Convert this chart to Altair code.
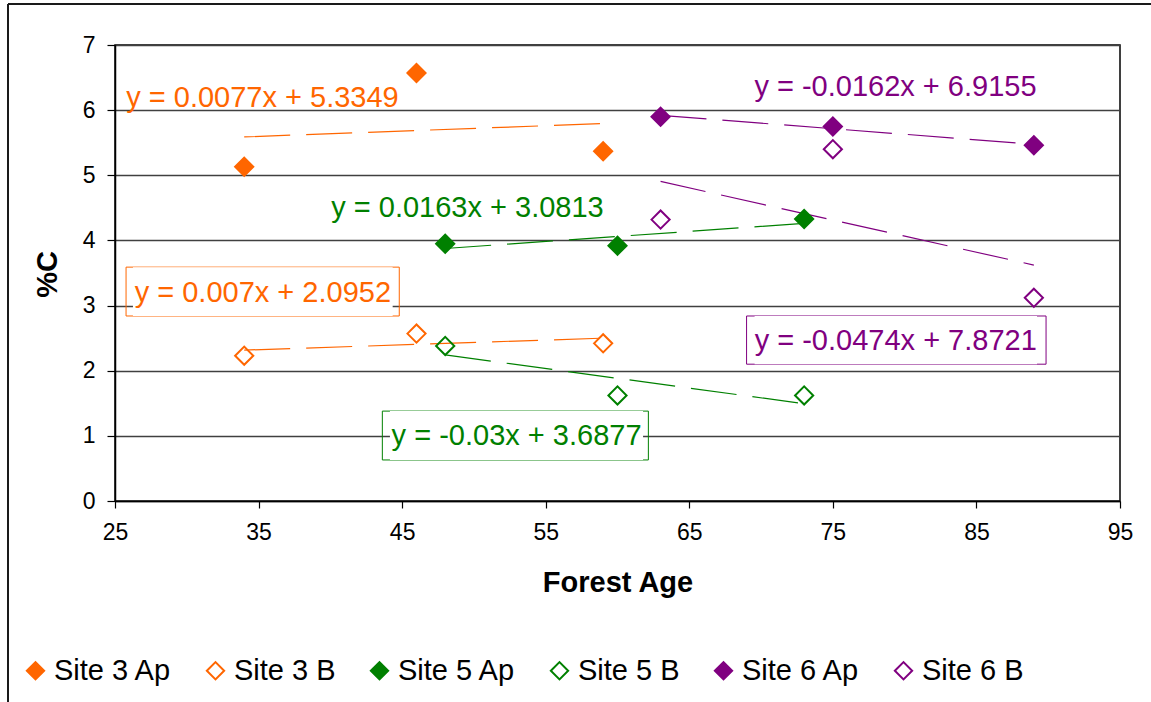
import altair as alt
import pandas as pd

# ---------------- data ----------------
series_names = ["Site 3 Ap", "Site 3 B", "Site 5 Ap", "Site 5 B", "Site 6 Ap", "Site 6 B"]
stroke_colors = ["#FF6600", "#FF6600", "#008000", "#008000", "#800080", "#800080"]
fill_colors = ["#FF6600", "transparent", "#008000", "transparent", "#800080", "transparent"]

site3_age = [34, 46, 59]
site5_age = [48, 60, 73]
site6_age = [63, 75, 89]

site3_ap = [5.13, 6.57, 5.37]
site3_b = [2.23, 2.57, 2.42]
site5_ap = [3.95, 3.92, 4.33]
site5_b = [2.38, 1.62, 1.62]
site6_ap = [5.90, 5.75, 5.46]
site6_b = [4.32, 5.40, 3.12]

x_ticks = [25, 35, 45, 55, 65, 75, 85, 95]
y_ticks = [0, 1, 2, 3, 4, 5, 6, 7]

# trendline equations (as printed on the chart) and where they are placed
eq_text = ["y = 0.0077x + 5.3349", "y = 0.007x + 2.0952", "y = 0.0163x + 3.0813",
           "y = -0.03x + 3.6877", "y = -0.0162x + 6.9155", "y = -0.0474x + 7.8721"]
eq_color = stroke_colors
eq_x = [35.27, 35.30, 49.55, 52.97, 79.36, 79.38]
eq_y = [6.18, 3.19, 4.50, 1.00, 6.36, 2.45]

# boxes around the three B-horizon equations
box_color = ["#FF6600", "#008000", "#800080"]
box_x1 = [25.77, 43.62, 68.99]
box_x2 = [44.80, 62.15, 89.85]
box_y1 = [2.84, 0.63, 2.10]
box_y2 = [3.59, 1.38, 2.84]
inner_x1 = [26.25, 44.15, 69.55]
inner_x2 = [44.34, 61.78, 89.22]

# ---------------- tables ----------------
ages = {"Site 3": site3_age, "Site 5": site5_age, "Site 6": site6_age}
vals = {"Site 3 Ap": site3_ap, "Site 3 B": site3_b, "Site 5 Ap": site5_ap,
        "Site 5 B": site5_b, "Site 6 Ap": site6_ap, "Site 6 B": site6_b}
rows = []
for s in series_names:
    site = " ".join(s.split()[:2])
    for a, v in zip(ages[site], vals[s]):
        rows.append({"series": s, "age": a, "c": v})
df = pd.DataFrame(rows)
color_df = pd.DataFrame({"series": series_names, "stroke": stroke_colors})
eq_df = pd.DataFrame({"label": eq_text, "color": eq_color, "x": eq_x, "y": eq_y})
box_df = pd.DataFrame({"color": box_color, "x1": box_x1, "x2": box_x2, "y1": box_y1,
                       "y2": box_y2, "ix1": inner_x1, "ix2": inner_x2})
frame_df = pd.DataFrame({"k": [0]})

FONT = "Liberation Sans"
xscale = alt.Scale(domain=[25, 95], nice=False, zero=False)
yscale = alt.Scale(domain=[0, 7], nice=False)

xenc = alt.X("age:Q", scale=xscale,
             axis=alt.Axis(values=x_ticks, title="Forest Age", grid=False, labelFontSize=23,
                           labelPadding=13, tickSize=7, titleFontSize=29, titleFontWeight="bold",
                           titleY=81, titleBaseline="middle", labelFlush=False, format="d"))
yenc = alt.Y("c:Q", scale=yscale,
             axis=alt.Axis(values=y_ticks, title="%C", grid=True, labelFontSize=23,
                           labelPadding=12, tickSize=8, titleFontSize=29, titleFontWeight="bold",
                           titleAngle=270, titleX=-68, titleY=229, titleBaseline="middle",
                           titleAlign="center", labelFlush=False, format="d"))

base = alt.Chart(df)

trend = base.transform_regression(
    "age", "c", groupby=["series"], method="linear"
).transform_lookup(
    lookup="series", from_=alt.LookupData(color_df, "series", ["stroke"])
).mark_line(strokeDash=[46, 16], strokeWidth=1.2).encode(
    x=xenc, y=yenc,
    color=alt.Color("stroke:N", scale=None),
    detail="series:N",
)

legend = alt.Legend(title=None, orient="none", legendX=-94, legendY=611, direction="horizontal",
                    labelFontSize=29, labelFont=FONT, symbolSize=300, symbolStrokeWidth=2,
                    symbolType="diamond", labelOffset=4, columnPadding=29, padding=0)

points = base.mark_point(shape="diamond", size=330, strokeWidth=2, filled=False,
                         opacity=1, fillOpacity=1).encode(
    x=xenc, y=yenc,
    color=alt.Color("series:N", scale=alt.Scale(domain=series_names, range=stroke_colors),
                    legend=legend),
    fill=alt.Fill("series:N", scale=alt.Scale(domain=series_names, range=fill_colors),
                  legend=legend),
)

boxes = alt.Chart(box_df).mark_rect(fillOpacity=0, strokeWidth=1).encode(
    x=alt.X("x1:Q", scale=xscale), x2="x2:Q",
    y=alt.Y("y1:Q", scale=yscale), y2="y2:Q",
    stroke=alt.Stroke("color:N", scale=None),
)
inner = alt.Chart(box_df).mark_rect(fill="white").encode(
    x=alt.X("ix1:Q", scale=xscale), x2="ix2:Q",
    y=alt.Y("y1:Q", scale=yscale), y2="y2:Q",
)

labels = alt.Chart(eq_df).mark_text(fontSize=29, font=FONT, align="center", baseline="middle").encode(
    x=alt.X("x:Q", scale=xscale), y=alt.Y("y:Q", scale=yscale),
    text="label:N",
    color=alt.Color("color:N", scale=None),
)

frame_v = alt.Chart(frame_df).mark_rule(color="#1a1a1a", strokeWidth=2).encode(
    x=alt.value(-107), y=alt.value(-41), y2=alt.value(700))
frame_h = alt.Chart(frame_df).mark_rule(color="#1a1a1a", strokeWidth=2).encode(
    x=alt.value(-107), x2=alt.value(1100), y=alt.value(-41))

chart = alt.layer(frame_v, frame_h, trend, points, boxes, inner, labels).properties(
    width=1005, height=456,
    autosize=alt.AutoSizeParams(type="none"),
    padding={"left": 115, "top": 45, "right": 31, "bottom": 201},
).configure(
    font=FONT,
).configure_view(
    stroke="black", strokeWidth=1.5,
).configure_axis(
    domainColor="black", domainWidth=1.5, tickColor="black", tickWidth=1.2,
    gridColor="#404040", gridWidth=1.3, labelColor="black", titleColor="black",
    labelFont=FONT, titleFont=FONT,
)

chart.save("out.html", embed_options={"renderer": "svg", "actions": False})
